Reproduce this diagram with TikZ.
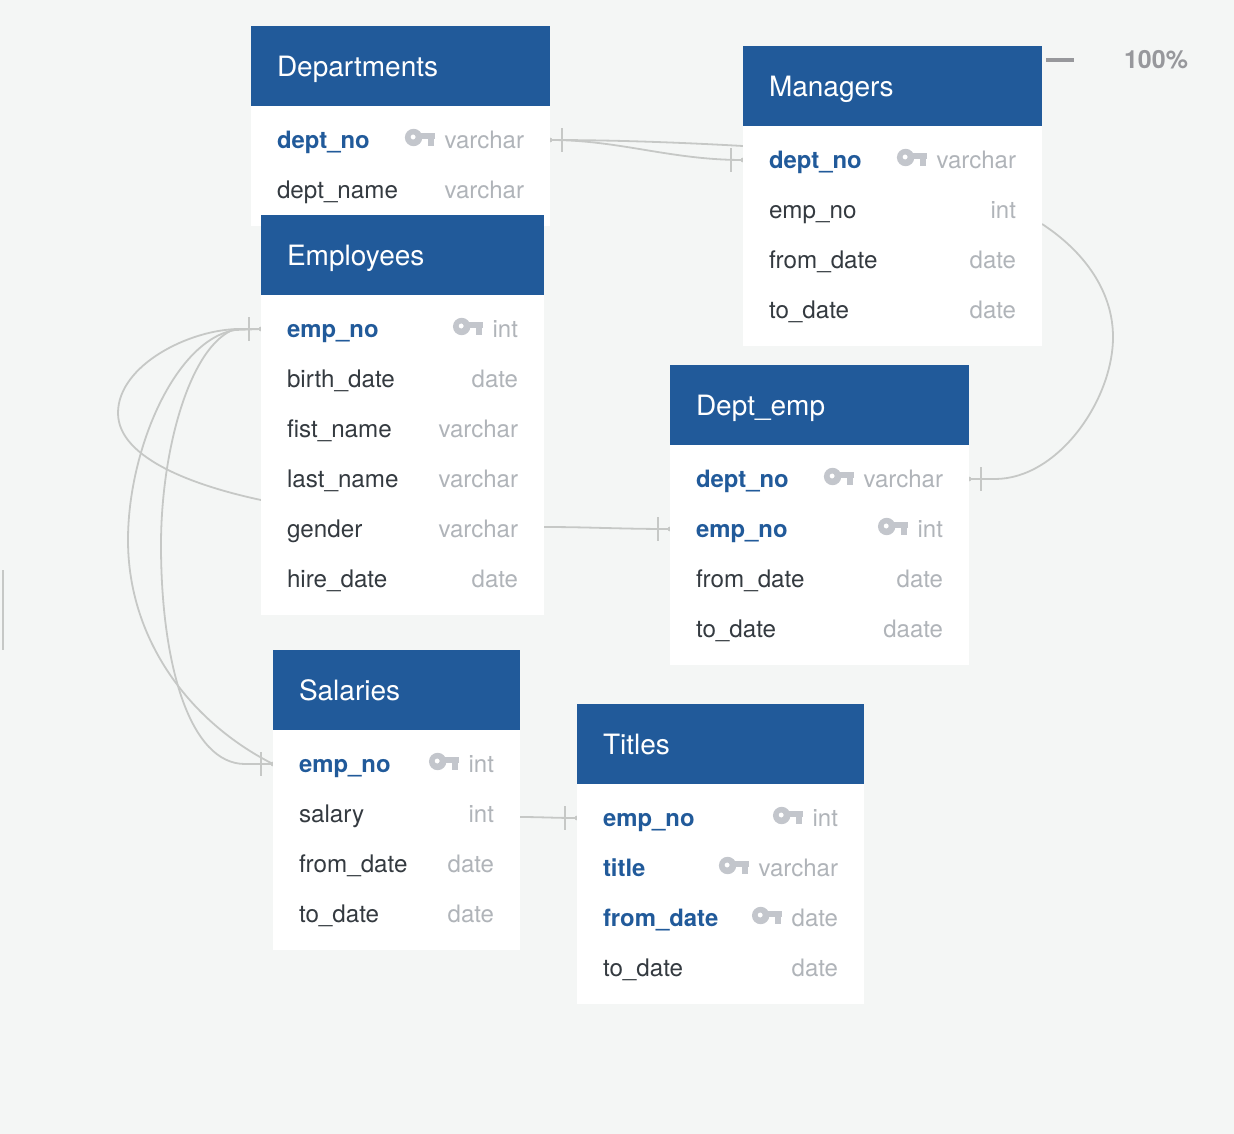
\documentclass[tikz,border=0pt]{standalone}
\usepackage{fontspec}
\setmainfont{TeX Gyre Heros}
\usepackage{xcolor}
\usetikzlibrary{positioning,backgrounds}
\definecolor{pageBg}{HTML}{F4F6F5}
\definecolor{headBlue}{HTML}{215A9A}
\definecolor{rowText}{HTML}{343A40}
\definecolor{typeGrey}{HTML}{B0B4B9}
\definecolor{keyGrey}{HTML}{C3C6CC}
\definecolor{linkGrey}{HTML}{C6C8C6}
\definecolor{zoomGrey}{HTML}{97989C}

\begin{document}
\begin{tikzpicture}[
x=0.75pt, y=-0.75pt,
hdr/.style={fill=headBlue, text=white, align=left, inner xsep=19.5pt, inner ysep=0pt, outer sep=0pt, minimum height=60pt, text width=#1, text height=18.7pt, text depth=3pt, font=\fontsize{21}{25}\selectfont},
bodybox/.style 2 args={fill=white, inner sep=0pt, outer sep=0pt, minimum width=#1, minimum height=#2},
col/.style={align=left, inner xsep=19.5pt, inner ysep=0pt, outer sep=0pt, minimum height=37.5pt, text width=#1, text height=15.5pt, text depth=3pt, text=rowText, font=\fontsize{18.15}{21}\selectfont},
pk/.style={col=#1, text=headBlue, font=\fontsize{17.9}{21}\selectfont\bfseries},
typ/.style={anchor=east, xshift=-19.5pt, inner sep=0pt, outer sep=0pt, text height=15.5pt, text depth=3pt, text=typeGrey, font=\fontsize{18}{21}\selectfont},
link/.style={draw=linkGrey, line width=1.35pt},
tick/.style={fill=linkGrey, inner sep=0pt, outer sep=0pt, minimum width=1.8pt, minimum height=18pt},
enddot/.style={circle, fill=linkGrey, inner sep=0pt, outer sep=0pt, minimum size=3.6pt},
keyicon/.pic={
  \fill[keyGrey, even odd rule] (-21,-2.5) circle[radius=8.7] (-21.5,-3) circle[radius=2.6];
  \fill[keyGrey] (-14,-7) rectangle (0,-1);
  \fill[keyGrey] (-7,-1) rectangle (-1,6);
}
]
\useasboundingbox (0,0) rectangle (1234,1134);
\begin{scope}[on background layer]
\fill[pageBg] (0,0) rectangle (1234,1134);
\end{scope}

% Departments
\node[hdr=185.25pt] (pH) at (400.5,66) {Departments};
\node[bodybox={224.25pt}{90pt}, below=0pt of pH] (pB) {};
\node[pk=185.25pt, below=6.75pt of pH] (pDn) {dept\_no};
\node[col=185.25pt, below=0pt of pDn] (pDm) {dept\_name};
\node[typ] (pDnT) at (pDn.east) {varchar};
\node[typ] (pDmT) at (pDm.east) {varchar};
\pic at ([xshift=-7.5pt]pDnT.west) {keyicon};

% Managers
\node[hdr=185.25pt] (mH) at (892.5,86) {Managers};
\node[bodybox={224.25pt}{165pt}, below=0pt of mH] (mB) {};
\node[pk=185.25pt, below=6.75pt of mH] (mDn) {dept\_no};
\node[col=185.25pt, below=0pt of mDn] (mEn) {emp\_no};
\node[col=185.25pt, below=0pt of mEn] (mFd) {from\_date};
\node[col=185.25pt, below=0pt of mFd] (mTd) {to\_date};
\node[typ] (mDnT) at (mDn.east) {varchar};
\node[typ] (mEnT) at (mEn.east) {int};
\node[typ] (mFdT) at (mFd.east) {date};
\node[typ] (mTdT) at (mTd.east) {date};
\pic at ([xshift=-7.5pt]mDnT.west) {keyicon};

% Employees
\node[hdr=173.25pt] (eH) at (402.5,255) {Employees};
\node[bodybox={212.25pt}{240pt}, below=0pt of eH] (eB) {};
\node[pk=173.25pt, below=6.75pt of eH] (eEn) {emp\_no};
\node[col=173.25pt, below=0pt of eEn] (eBd) {birth\_date};
\node[col=173.25pt, below=0pt of eBd] (eFn) {fist\_name};
\node[col=173.25pt, below=0pt of eFn] (eLn) {last\_name};
\node[col=173.25pt, below=0pt of eLn] (eGn) {gender};
\node[col=173.25pt, below=0pt of eGn] (eHd) {hire\_date};
\node[typ] (eEnT) at (eEn.east) {int};
\node[typ] (eBdT) at (eBd.east) {date};
\node[typ] (eFnT) at (eFn.east) {varchar};
\node[typ] (eLnT) at (eLn.east) {varchar};
\node[typ] (eGnT) at (eGn.east) {varchar};
\node[typ] (eHdT) at (eHd.east) {date};
\pic at ([xshift=-7.5pt]eEnT.west) {keyicon};

% Dept_emp
\node[hdr=185.25pt] (xH) at (819.5,405) {Dept\_emp};
\node[bodybox={224.25pt}{165pt}, below=0pt of xH] (xB) {};
\node[pk=185.25pt, below=6.75pt of xH] (xDn) {dept\_no};
\node[pk=185.25pt, below=0pt of xDn] (xEn) {emp\_no};
\node[col=185.25pt, below=0pt of xEn] (xFd) {from\_date};
\node[col=185.25pt, below=0pt of xFd] (xTd) {to\_date};
\node[typ] (xDnT) at (xDn.east) {varchar};
\node[typ] (xEnT) at (xEn.east) {int};
\node[typ] (xFdT) at (xFd.east) {date};
\node[typ] (xTdT) at (xTd.east) {daate};
\pic at ([xshift=-7.5pt]xDnT.west) {keyicon};
\pic at ([xshift=-7.5pt]xEnT.west) {keyicon};

% Salaries
\node[hdr=146.25pt] (sH) at (396.5,690) {Salaries};
\node[bodybox={185.25pt}{165pt}, below=0pt of sH] (sB) {};
\node[pk=146.25pt, below=6.75pt of sH] (sEn) {emp\_no};
\node[col=146.25pt, below=0pt of sEn] (sSa) {salary};
\node[col=146.25pt, below=0pt of sSa] (sFd) {from\_date};
\node[col=146.25pt, below=0pt of sFd] (sTd) {to\_date};
\node[typ] (sEnT) at (sEn.east) {int};
\node[typ] (sSaT) at (sSa.east) {int};
\node[typ] (sFdT) at (sFd.east) {date};
\node[typ] (sTdT) at (sTd.east) {date};
\pic at ([xshift=-7.5pt]sEnT.west) {keyicon};

% Titles
\node[hdr=176.25pt] (tH) at (720.5,744) {Titles};
\node[bodybox={215.25pt}{165pt}, below=0pt of tH] (tB) {};
\node[pk=176.25pt, below=6.75pt of tH] (tEn) {emp\_no};
\node[pk=176.25pt, below=0pt of tEn] (tTi) {title};
\node[pk=176.25pt, below=0pt of tTi] (tFd) {from\_date};
\node[col=176.25pt, below=0pt of tFd] (tTd) {to\_date};
\node[typ] (tEnT) at (tEn.east) {int};
\node[typ] (tTiT) at (tTi.east) {varchar};
\node[typ] (tFdT) at (tFd.east) {date};
\node[typ] (tTdT) at (tTd.east) {date};
\pic at ([xshift=-7.5pt]tEnT.west) {keyicon};
\pic at ([xshift=-7.5pt]tTiT.west) {keyicon};
\pic at ([xshift=-7.5pt]tFdT.west) {keyicon};

% Zoom control and edge bar
\node[fill=zoomGrey, inner sep=0pt, minimum width=21pt, minimum height=3pt] (zoomBar) at (1060,60) {};
\node[text=zoomGrey, inner sep=0pt, font=\fontsize{18.75}{21}\selectfont\bfseries] (zoomPct) at (1156,60) {100\%};
\node[fill=linkGrey, inner sep=0pt, minimum width=1.5pt, minimum height=60pt] (edgeBar) at (3,610) {};

% Connectors sit behind the tables
\begin{scope}[on background layer]
\draw[link] (pDn.east) .. controls (620,140) and (690,143) .. ([yshift=10.5pt]mDn.west);
\draw[link] (pDn.east) .. controls (620,140) and (670,160) .. (mDn.west);
\draw[link] ([yshift=-10.5pt]mEn.east) .. controls (1085,252) and (1113,292) .. (1113,337) .. controls (1113,400) and (1058,479) .. (995,479) -- (xDn.east);
\draw[link] ([yshift=1.5pt]eGn.east) .. controls (590,527) and (620,529) .. (xEn.west);
\draw[link] ([yshift=-2.25pt]sSa.east) .. controls (540,817) and (555,818) .. (tEn.west);
\draw[link] ([yshift=3pt]eLn.south west) .. controls (200,487) and (118,460) .. (118,413) .. controls (118,365) and (190,329) .. (240,329) -- (eEn.west);
\draw[link] (eEn.west) -- (235,330) .. controls (175,340) and (128,450) .. (128,540) .. controls (128,640) and (190,722) .. (sEn.west);
\draw[link] (eEn.west) -- (235,329) .. controls (190,345) and (161,450) .. (161,545) .. controls (161,665) and (190,764) .. (245,764) -- (sEn.west);
\node[tick, right=8.25pt of pDn.east] (pDnTick) {};
\node[enddot] (pDnEnd) at (pDn.east) {};
\node[tick, left=8.25pt of mDn.west] (mDnTick) {};
\node[enddot] (mDnEnd) at (mDn.west) {};
\node[tick, right=8.25pt of xDn.east] (xDnTick) {};
\node[enddot] (xDnEnd) at (xDn.east) {};
\node[tick, left=8.25pt of xEn.west] (xEnTick) {};
\node[enddot] (xEnEnd) at (xEn.west) {};
\node[tick, left=8.25pt of eEn.west] (eEnTick) {};
\node[enddot] (eEnEnd) at (eEn.west) {};
\node[tick, left=8.25pt of sEn.west] (sEnTick) {};
\node[enddot] (sEnEnd) at (sEn.west) {};
\node[tick, left=8.25pt of tEn.west] (tEnTick) {};
\node[enddot] (tEnEnd) at (tEn.west) {};
\end{scope}
\end{tikzpicture}
\end{document}
